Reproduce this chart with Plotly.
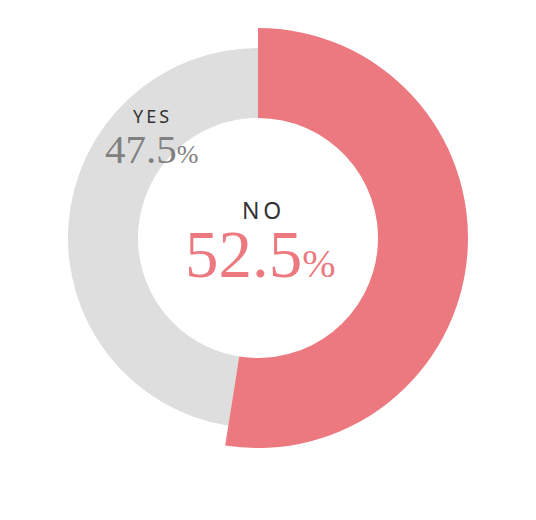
import plotly.graph_objects as go

labels = ["NO", "YES"]
values = [52.5, 47.5]
colors = ["#EC7980", "#DEDEDE"]

W, H = 536, 520
OFF = 8  # page body margin
cx, cy = 258 - OFF, 238 - OFF
r_no, r_yes, r_in = 210, 190, 120

def dom(r):
    return dict(x=[(cx - r) / W, (cx + r) / W], y=[1 - (cy + r) / H, 1 - (cy - r) / H])

fig = go.Figure()
fig.add_trace(go.Pie(
    labels=labels, values=values, sort=False, direction="clockwise", rotation=0,
    marker=dict(colors=["rgba(0,0,0,0)", colors[1]], line=dict(width=0)),
    hole=r_in / r_yes, domain=dom(r_yes), textinfo="none", showlegend=False, hoverinfo="skip"))
fig.add_trace(go.Pie(
    labels=labels, values=values, sort=False, direction="clockwise", rotation=0,
    marker=dict(colors=[colors[0], "rgba(0,0,0,0)"], line=dict(width=0)),
    hole=r_in / r_no, domain=dom(r_no), textinfo="none", showlegend=False, hoverinfo="skip"))

def pct(v, big, small):
    return (f"<span style='font-size:{big}px'>{v}</span>"
            f"<span style='font-size:{small}px'>%</span>")

def px(x, y):
    return (x - OFF) / W, 1 - (y - OFF) / H

ann = []
for (x, y), text, size, color, fam in [
    ((261, 210), "N\u2009O", 23, "#333333", "Noto Sans"),
    ((260, 254), pct(values[0], 67, 40), 67, "#EC7980", "Liberation Serif"),
    ((151, 116), "Y\u2009E\u2009S", 18, "#333333", "Noto Sans"),
    ((151, 149), pct(values[1], 41, 26), 41, "#808080", "Liberation Serif"),
]:
    ax, ay = px(x, y)
    ann.append(dict(x=ax, y=ay, text=text, font=dict(family=fam, size=size, color=color),
                    xref="paper", yref="paper", showarrow=False,
                    xanchor="center", yanchor="middle"))

fig.update_layout(width=W, height=H, margin=dict(l=0, r=0, t=0, b=0),
                  paper_bgcolor="white", plot_bgcolor="white", annotations=ann)
fig.write_html("out.html")
